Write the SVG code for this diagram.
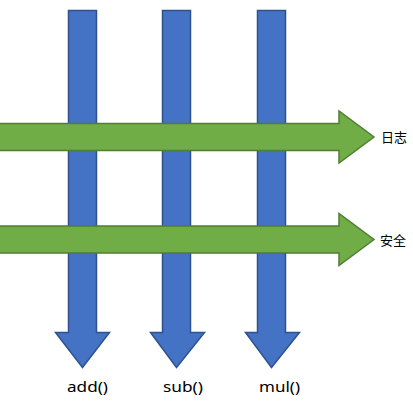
<svg xmlns="http://www.w3.org/2000/svg" width="413" height="414" viewBox="0 0 413 414">
<style>
.blue{fill:#4472C4;stroke:#2F528F;stroke-width:1.5;stroke-linejoin:miter}
.green{fill:#70AD47;stroke:#507E32;stroke-width:1.5;stroke-linejoin:miter}
.lbl{font-family:"Noto Sans","Noto Sans CJK SC",sans-serif;font-size:14px;fill:#000}
.cjk{font-family:"Noto Sans CJK SC",sans-serif;font-size:13px;fill:#000}
</style>
<rect width="413" height="414" fill="#fff"/>
<g id="connectors">
<g id="add-arrow"><path class="blue" d="M68.5,10.5 H96.5 V332.5 H109.5 L82.5,367.5 L55.5,332.5 H68.5 Z"/></g>
<g id="sub-arrow"><path class="blue" d="M162.5,10.5 H190.5 V332.5 H204.5 L176.5,367.5 L150.5,332.5 H162.5 Z"/></g>
<g id="mul-arrow"><path class="blue" d="M257.5,10.5 H285.5 V332.5 H299.5 L271.5,367.5 L245.5,332.5 H257.5 Z"/></g>
<g id="log-arrow"><path class="green" d="M-1,123.5 H339 V111 L374,137 L339,163 V150.5 H-1 Z"/></g>
<g id="sec-arrow"><path class="green" d="M-1,226 H339 V213.5 L374,239.5 L339,265.5 V253 H-1 Z"/></g>
</g>
<g id="label-log"><text class="cjk" x="381" y="141.5">日志</text></g>
<g id="label-sec"><text class="cjk" x="380" y="245">安全</text></g>
<g id="label-add"><text class="lbl" x="67" y="392" textLength="41" lengthAdjust="spacingAndGlyphs">add()</text></g>
<g id="label-sub"><text class="lbl" x="163" y="392" textLength="40" lengthAdjust="spacingAndGlyphs">sub()</text></g>
<g id="label-mul"><text class="lbl" x="259" y="392" textLength="41" lengthAdjust="spacingAndGlyphs">mul()</text></g>
</svg>
